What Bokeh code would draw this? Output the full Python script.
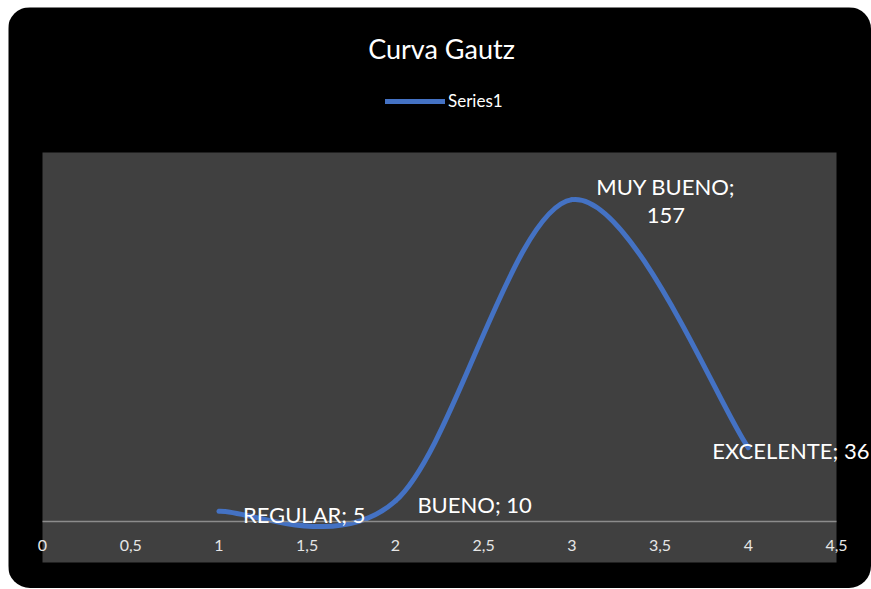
from bokeh.plotting import figure
from bokeh.models import (ColumnDataSource, LabelSet, Label, Legend, LegendItem,
                          FixedTicker, Range1d, LinearAxis)
from bokeh.core.properties import value
from bokeh.embed import file_html
from bokeh.resources import INLINE

# ---- data ----
categories = ["REGULAR", "BUENO", "MUY BUENO", "EXCELENTE"]
x_vals = [1, 2, 3, 4]
y_vals = [5, 10, 157, 36]
x_ticks = [0, 0.5, 1, 1.5, 2, 2.5, 3, 3.5, 4, 4.5]
y_limits = [-20, 180]
title_text = "Curva Gautz"
series_name = "Series1"

# ---- layout / style ----
W, H = 863, 581                      # whole chart (canvas)
PL, PT, PW, PH = 34, 145, 794, 410   # plot area inside the chart, px
label_dx = [24, 22, 94, -36]
label_dy = [-3, -3, 0, -3]
label_center = [False, False, True, False]
line_break = [False, False, True, False]
LINE_UP, LINE_DOWN = 13.5, -16       # two-line label: offsets of the lines

FONT = "Lato"
BLUE = "#4472C4"

x_lo, x_hi = x_ticks[0], x_ticks[-1]
y_lo, y_hi = y_limits
kx = (x_hi - x_lo) / PW
ky = (y_hi - y_lo) / PH
xr = Range1d(x_lo - PL * kx, x_hi + (W - PL - PW) * kx)
yr = Range1d(y_lo - (H - PT - PH) * ky, y_hi + PT * ky)

p = figure(frame_width=W, frame_height=H, min_border=0,
           x_range=xr, y_range=yr,
           x_axis_location=None, y_axis_location=None,
           output_backend="svg", toolbar_location=None,
           background_fill_color="#000000", border_fill_color="#000000",
           outline_line_color=None)
p.xgrid.visible = False
p.ygrid.visible = False
p.styles = {"border-radius": "22px", "overflow": "hidden",
            "margin-left": "8px", "margin-top": "7px"}

# plot area
p.quad(left=x_lo, right=x_hi, bottom=y_lo, top=y_hi, fill_color="#404040", line_color=None)

# smooth (Catmull-Rom style bezier) through the data points
n = len(x_vals)
def gx(i):
    return x_vals[min(max(i, 0), n - 1)]
def gy(i):
    return y_vals[min(max(i, 0), n - 1)]
seg = dict(x0=[], y0=[], x1=[], y1=[], cx0=[], cy0=[], cx1=[], cy1=[])
for i in range(n - 1):
    seg["x0"].append(gx(i)); seg["y0"].append(gy(i))
    seg["x1"].append(gx(i + 1)); seg["y1"].append(gy(i + 1))
    seg["cx0"].append(gx(i) + (gx(i + 1) - gx(i - 1)) / 6)
    seg["cy0"].append(gy(i) + (gy(i + 1) - gy(i - 1)) / 6)
    seg["cx1"].append(gx(i + 1) - (gx(i + 2) - gx(i)) / 6)
    seg["cy1"].append(gy(i + 1) - (gy(i + 2) - gy(i)) / 6)
curve = p.bezier(x0="x0", y0="y0", x1="x1", y1="y1", cx0="cx0", cy0="cy0",
                 cx1="cx1", cy1="cy1", source=ColumnDataSource(seg),
                 line_color=BLUE, line_width=5, line_cap="round")

# x axis crossing at y = 0
xaxis = LinearAxis(ticker=FixedTicker(ticks=x_ticks), fixed_location=0, bounds=(x_lo, x_hi),
                   major_label_overrides={t: f"{t:g}".replace(".", ",") for t in x_ticks},
                   axis_line_color="#8c8c8c", axis_line_width=1.5,
                   major_tick_line_color=None, minor_tick_line_color=None,
                   major_tick_out=0, major_tick_in=0, major_label_standoff=18,
                   major_label_text_color="#e6e6e6", major_label_text_font=FONT,
                   major_label_text_font_size="16px")
p.add_layout(xaxis, "below")

# data labels
def make_src(center):
    d = dict(x=[], y=[], t=[], dx=[], dy=[])
    for c, xv, yv, dx, dy, cen, br in zip(categories, x_vals, y_vals, label_dx, label_dy,
                                         label_center, line_break):
        if cen != center:
            continue
        if br:
            parts = [(f"{c};", dy + LINE_UP), (f"{yv}", dy + LINE_DOWN)]
        else:
            parts = [(f"{c}; {yv}", dy)]
        for t, off in parts:
            d["x"].append(xv); d["y"].append(yv)
            d["t"].append(t)
            d["dx"].append(dx); d["dy"].append(off)
    return ColumnDataSource(d)

for center in (False, True):
    p.add_layout(LabelSet(x="x", y="y", text="t", x_offset="dx", y_offset="dy",
                          source=make_src(center), text_color="#ffffff",
                          text_font=value(FONT), text_font_size=value("22px"),
                          text_align="center" if center else "left",
                          text_baseline="middle"))

# title
p.add_layout(Label(x=433, y=H - 41, x_units="screen", y_units="screen", text=title_text,
                   text_color="#ffffff", text_font=FONT, text_font_size="27px",
                   text_align="center", text_baseline="middle"))

# legend
legend = Legend(items=[LegendItem(label=series_name, renderers=[curve])],
                location=(377, H - 104), orientation="horizontal",
                background_fill_alpha=0, border_line_color=None,
                padding=0, margin=0, spacing=0, glyph_width=60, glyph_height=20,
                label_height=20, label_standoff=3,
                label_text_color="#ffffff", label_text_font=FONT,
                label_text_font_size="17px")
p.add_layout(legend, "center")

open("out.html", "w").write(file_html(p, INLINE))
